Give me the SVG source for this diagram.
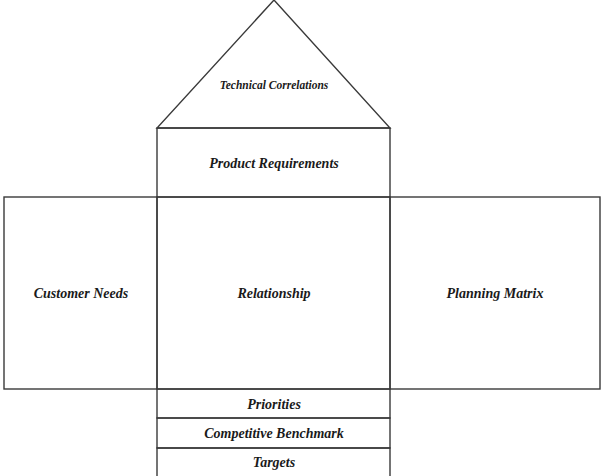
<svg xmlns="http://www.w3.org/2000/svg" width="601" height="476" viewBox="0 0 601 476">
<style>
.s{fill:none;stroke:#3a3a3a;stroke-width:1.4}
text{font-family:'Liberation Serif','DejaVu Serif',serif;font-weight:bold;font-style:italic;font-size:14px;fill:#1a1a1a;text-anchor:middle}
.sm{font-size:11.5px}
</style>
<rect width="601" height="476" fill="#fff"/>
<g id="roof"><polygon class="s" points="274,0 157,128 390,128"/><text class="sm" x="274" y="89">Technical Correlations</text></g>
<g id="product-requirements"><rect class="s" x="157" y="128" width="233" height="69"/><text x="274" y="168">Product Requirements</text></g>
<g id="customer-needs"><rect class="s" x="4" y="197" width="153" height="192"/><text x="81" y="298">Customer Needs</text></g>
<g id="relationship"><rect class="s" x="157" y="197" width="233" height="192"/><text x="274" y="298">Relationship</text></g>
<g id="planning-matrix"><rect class="s" x="390" y="197" width="210" height="192"/><text x="495" y="298">Planning Matrix</text></g>
<g id="priorities"><rect class="s" x="157" y="389" width="233" height="29"/><text x="274" y="409">Priorities</text></g>
<g id="competitive-benchmark"><rect class="s" x="157" y="418" width="233" height="30"/><text x="274" y="438">Competitive Benchmark</text></g>
<g id="targets"><path class="s" d="M157,476V448H390V476"/><text x="274" y="467">Targets</text></g>
<g id="connectors"></g>
</svg>
